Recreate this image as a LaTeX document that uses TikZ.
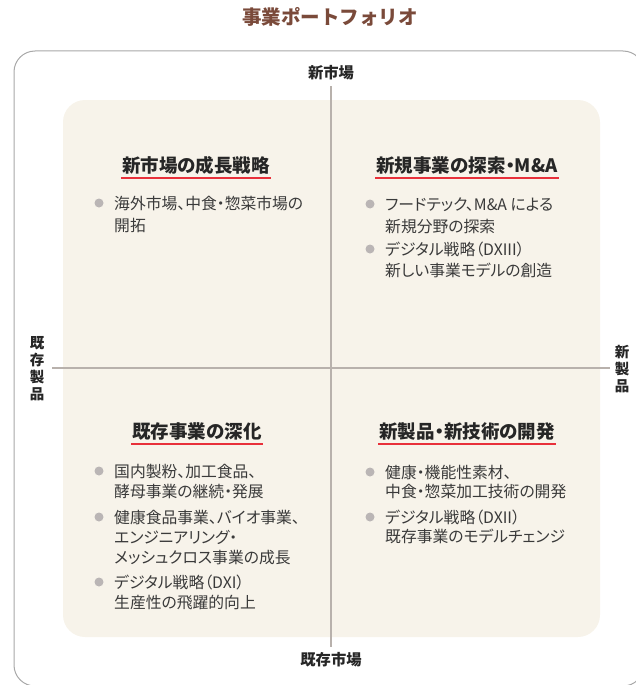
\documentclass[tikz,border=0pt]{standalone}
\usepackage{fontspec}
\setmainfont{Noto Sans CJK JP}[RawFeature=+palt]
\newfontfamily\jpn{Noto Sans CJK JP}
\definecolor{titlec}{HTML}{7A4A3A}
\definecolor{headc}{HTML}{262626}
\definecolor{bodyc}{HTML}{3A3A3A}
\definecolor{dotc}{HTML}{BAB5B5}
\definecolor{ulc}{HTML}{E8303A}
\definecolor{creamc}{HTML}{F7F3EA}
\definecolor{axisc}{HTML}{B8B1AC}
\definecolor{framec}{HTML}{A8A8A8}
\begin{document}
\begin{tikzpicture}[x=1pt,y=-1pt,
  body/.style={anchor=base west, inner sep=0pt, font=\fontsize{15.8}{18}\selectfont, text=bodyc},
  head/.style={anchor=base, inner sep=0pt, font=\bfseries\fontsize{18.5}{22}\selectfont, text=headc},
  uline/.style={draw=ulc, line width=1.3pt},
  dot/.style={circle, fill=dotc, minimum size=9pt, inner sep=0pt},
  axislbl/.style={inner sep=0pt, font=\bfseries\fontsize{15.3}{17}\selectfont, text=headc},
  axis/.style={draw=axisc, line width=1.6pt},
  frame/.style={draw=framec, line width=1pt, rounded corners=21pt}
]
\useasboundingbox (0,0) rectangle (636,685);
\begin{scope}
  \clip (0,0) rectangle (636,685);
  \draw[frame] (14,51) rectangle (644,686);
\end{scope}
\fill[creamc, rounded corners=22pt] (63,100) rectangle (600,637);

% title
\node[anchor=base, inner sep=0pt, font=\jpn\bfseries\fontsize{19.5}{22}\selectfont, text=titlec] (title) at (330,25) {事業ポートフォリオ};

% axis labels
\node[axislbl, anchor=base] (top) at (331,78) {新市場};
\node[axislbl, anchor=base] (bot) at (331,665) {既存市場};
\node[axislbl, align=center, font=\bfseries\fontsize{14.5}{17}\selectfont] (left) at (37,369) {既\\存\\製\\品};
\node[axislbl, align=center, font=\bfseries\fontsize{14.5}{17}\selectfont] (right) at (622,369) {新\\製\\品};
\coordinate (vt) at (331,86);
\coordinate (vb) at (331,647);
\coordinate (hl) at (52,368);
\coordinate (hr) at (610,368);
\draw[axis] (vt) -- (vb);
\draw[axis] (hl) -- (hr);

% top-left
\node[head] (h1) at (196,172) {新市場の成長戦略};
\draw[uline] ([xshift=-1pt,yshift=-6pt]h1.base west) -- ([xshift=1pt,yshift=-6pt]h1.base east);
\node[dot] (d11) at (99,203) {};
\node[body] (t111) at (114,209) {海外市場、中食・惣菜市場の};
\node[body] (t112) at (114,231) {開拓};

% top-right
\node[head] (h2) at (467,172) {新規事業の探索・M\&A};
\draw[uline] ([xshift=-1pt,yshift=-6pt]h2.base west) -- ([xshift=1pt,yshift=-6pt]h2.base east);
\node[dot] (d21) at (370,204) {};
\node[body] (t211) at (385,210) {フードテック、M\&A による};
\node[body] (t212) at (385,232) {新規分野の探索};
\node[dot] (d22) at (370,249) {};
\node[body] (t221) at (385,255) {デジタル戦略（DXIII）};
\node[body] (t222) at (385,276) {新しい事業モデルの創造};

% bottom-left
\node[head] (h3) at (197,438) {既存事業の深化};
\draw[uline] ([xshift=-1pt,yshift=-6pt]h3.base west) -- ([xshift=1pt,yshift=-6pt]h3.base east);
\node[dot] (d31) at (99,471) {};
\node[body] (t311) at (114,477) {国内製粉、加工食品、};
\node[body] (t312) at (114,497) {酵母事業の継続・発展};
\node[dot] (d32) at (99,517) {};
\node[body] (t321) at (114,523) {健康食品事業、バイオ事業、};
\node[body] (t322) at (114,543) {エンジニアリング・};
\node[body] (t323) at (114,563) {メッシュクロス事業の成長};
\node[dot] (d33) at (99,582) {};
\node[body] (t331) at (114,588) {デジタル戦略（DXI）};
\node[body] (t332) at (114,608) {生産性の飛躍的向上};

% bottom-right
\node[head] (h4) at (467,438) {新製品・新技術の開発};
\draw[uline] ([xshift=-1pt,yshift=-6pt]h4.base west) -- ([xshift=1pt,yshift=-6pt]h4.base east);
\node[dot] (d41) at (370,472) {};
\node[body] (t411) at (385,478) {健康・機能性素材、};
\node[body] (t412) at (385,497) {中食・惣菜加工技術の開発};
\node[dot] (d42) at (370,517) {};
\node[body] (t421) at (385,523) {デジタル戦略（DXII）};
\node[body] (t422) at (385,542) {既存事業のモデルチェンジ};
\end{tikzpicture}
\end{document}
